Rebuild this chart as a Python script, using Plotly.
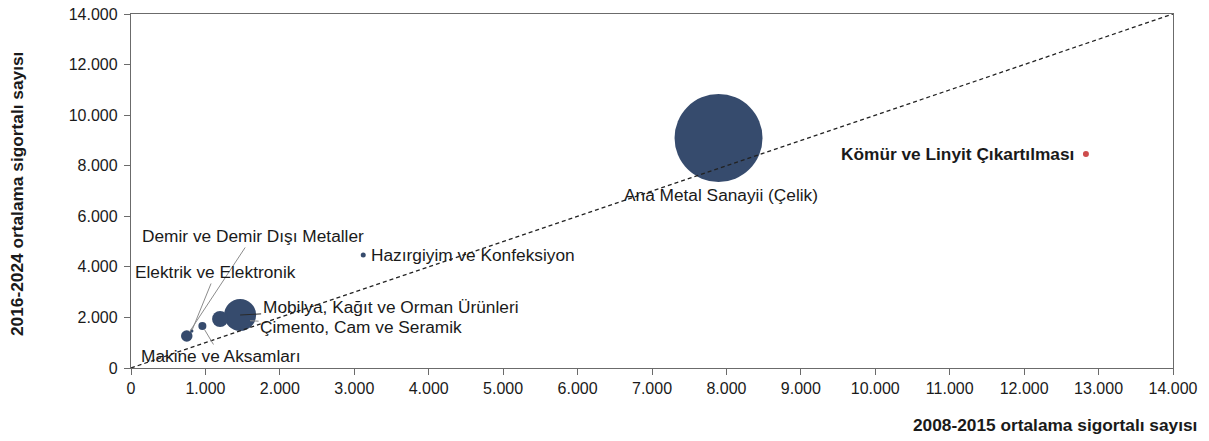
import plotly.graph_objects as go

# ---- data ----
sektorler = [
    "Ana Metal Sanayii (Çelik)",
    "Mobilya, Kağıt ve Orman Ürünleri",
    "Çimento, Cam ve Seramik",
    "Demir ve Demir Dışı Metaller",
    "Makine ve Aksamları",
    "Elektrik ve Elektronik",
    "Hazırgiyim ve Konfeksiyon",
]
x_2008_2015 = [7894, 1466, 1197, 749, 959, 816, 3120]
y_2016_2024 = [9096, 2096, 1938, 1266, 1661, 1463, 4469]
balon = [7744, 1024, 256, 132, 64, 12, 25]

komur_ad = ["Kömür ve Linyit Çıkartılması"]
komur_x = [12830]
komur_y = [8463]
komur_balon = [36]

eksen_max = 14000
x_ticks = list(range(0, 14001, 1000))
y_ticks = list(range(0, 14001, 2000))

x_baslik = "2008-2015 ortalama sigortalı sayısı"
y_baslik = "2016-2024 ortalama sigortalı sayısı"

# ---- styles ----
FONT = "Liberation Sans, Arial, sans-serif"
NAVY = "#364B6D"
RED = "#B80000"
AXIS = "#6b6b6b"
LEADER = "#8c8c8c"
TXT = "#1a1a1a"
LBL = 17.3

fig = go.Figure()

fig.add_trace(go.Scatter(
    x=x_2008_2015, y=y_2016_2024, mode="markers",
    marker=dict(size=balon, sizemode="area", sizeref=2, color=NAVY,
                line=dict(width=0), opacity=1),
    text=sektorler, hoverinfo="text", showlegend=False,
))
fig.add_trace(go.Scatter(
    x=komur_x, y=komur_y, mode="markers",
    marker=dict(size=komur_balon, sizemode="area", sizeref=2, color=RED,
                line=dict(width=0)),
    text=komur_ad, hoverinfo="text", showlegend=False,
))
# 45-degree reference line
fig.add_trace(go.Scatter(
    x=[0, eksen_max], y=[0, eksen_max], mode="lines",
    line=dict(color="#222222", width=1.3, dash="4px,3px"),
    hoverinfo="skip", showlegend=False,
))

# label placements (pixel offsets)
plain = {
    "Ana Metal Sanayii (Çelik)": dict(xanchor="center", xshift=2, yshift=-57),
    "Hazırgiyim ve Konfeksiyon": dict(xanchor="left", xshift=6, yshift=0),
}
arrows = {
    "Mobilya, Kağıt ve Orman Ürünleri": dict(ax=150, ay=-8, standoff=0, color="#2a2a2a"),
    "Çimento, Cam ve Seramik": dict(ax=141, ay=8, standoff=30, color=LEADER),
    "Demir ve Demir Dışı Metaller": dict(ax=66, ay=-100, standoff=5, color=LEADER),
    "Elektrik ve Elektronik": dict(ax=24, ay=-59, standoff=1, color=LEADER),
    "Makine ve Aksamları": dict(ax=18, ay=30, standoff=4, color=LEADER),
}

annotations = []
for name, xv, yv in zip(sektorler, x_2008_2015, y_2016_2024):
    if name in plain:
        p = plain[name]
        annotations.append(dict(x=xv, y=yv, xref="x", yref="y", text=name,
                                showarrow=False, xanchor=p["xanchor"], yanchor="middle",
                                xshift=p["xshift"], yshift=p["yshift"],
                                font=dict(family=FONT, size=LBL, color=TXT)))
    else:
        a = arrows[name]
        annotations.append(dict(x=xv, y=yv, xref="x", yref="y", text=name,
                                showarrow=True, arrowhead=0, arrowwidth=1,
                                arrowcolor=a["color"], ax=a["ax"], ay=a["ay"],
                                standoff=a["standoff"],
                                font=dict(family=FONT, size=LBL, color=TXT)))

annotations.append(dict(x=komur_x[0], y=komur_y[0], xref="x", yref="y",
                        text="<b>" + komur_ad[0] + "</b>", showarrow=False,
                        xanchor="right", yanchor="middle", xshift=-10, yshift=0,
                        font=dict(family=FONT, size=LBL, color=TXT)))

annotations.append(dict(x=1, y=0, xref="paper", yref="paper",
                        text="<b>" + x_baslik + "</b>", showarrow=False,
                        xanchor="right", yanchor="middle", xshift=26, yshift=-57,
                        font=dict(family=FONT, size=LBL, color=TXT)))
annotations.append(dict(x=0, y=0.5, xref="paper", yref="paper",
                        text="<b>" + y_baslik + "</b>", showarrow=False,
                        textangle=-90, xanchor="center", yanchor="middle",
                        xshift=-114, yshift=-3,
                        font=dict(family=FONT, size=LBL, color=TXT)))

axis_common = dict(
    showline=True, linecolor=AXIS, linewidth=1.3, mirror=True,
    ticks="outside", ticklen=6, tickcolor=AXIS, tickwidth=1,
    showgrid=False, zeroline=False, tickformat=",d", automargin=False,
    tickfont=dict(family=FONT, size=16, color=TXT),
)

fig.update_layout(
    width=1209, height=441,
    margin=dict(l=131, r=36, t=14, b=73),
    plot_bgcolor="white", paper_bgcolor="white",
    separators=",.",
    xaxis=dict(range=[0, eksen_max], tickvals=x_ticks, **axis_common),
    yaxis=dict(range=[0, eksen_max], tickvals=y_ticks, ticklabelstandoff=3, **axis_common),
    annotations=annotations,
    font=dict(family=FONT),
)

fig.write_html(
    "out.html",
    config={"displayModeBar": False},
    post_script="document.body.style.margin='0';document.body.style.overflow='hidden';",
)
